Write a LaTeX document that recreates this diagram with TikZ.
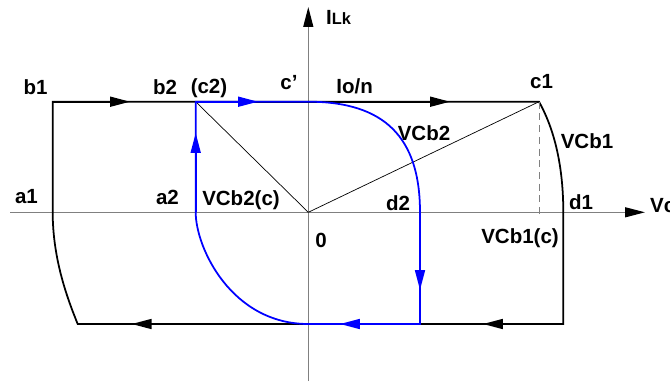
\documentclass[tikz,border=0pt]{standalone}
\usepackage{fontspec}
\setmainfont{Liberation Sans}
\usepackage{tikz}
\usetikzlibrary{arrows.meta}
\definecolor{curveBlue}{HTML}{0000FF}
\definecolor{axisGray}{HTML}{808080}

\begin{document}
\begin{tikzpicture}[
    x=0.03cm, y=-0.03cm,
    ptLabel/.style={font=\fontsize{17.5}{20}\selectfont\bfseries, inner sep=0pt},
    outerLoop/.style={line width=1.5pt, black, line join=miter},
    blueLoop/.style={line width=1.5pt, curveBlue},
    headArrow/.style={-{Triangle[length=17pt, width=8.5pt]}},
    axisLine/.style={line width=1.1pt, axisGray, -{Triangle[length=17pt, width=8.5pt, color=black]}},
    thinLine/.style={line width=0.6pt, black}
]
\useasboundingbox (0,0) rectangle (670,382);

% points of the loops
\coordinate (O) at (308.3,212.3);
\coordinate (b1) at (52.7,101.7);
\coordinate (c2) at (195.7,101.7);
\coordinate (cp) at (308.3,101.7);
\coordinate (c1) at (539,101.7);
\coordinate (c1foot) at (539,215);
\coordinate (d1) at (563.3,212.3);
\coordinate (d2) at (420,212.3);
\coordinate (a1) at (52.7,212.3);
\coordinate (a2) at (195.7,212.3);
\coordinate (e1) at (563.3,324);
\coordinate (e2) at (420,324);
\coordinate (f0) at (308.3,324);
\coordinate (g1) at (77.7,324);

% arrow tips
\coordinate (t1) at (130,101.7);
\coordinate (t2) at (450,101.7);
\coordinate (t3) at (483,324);
\coordinate (t4) at (131.7,324);
\coordinate (bt1) at (258,101.7);
\coordinate (bt2) at (420,290);
\coordinate (bt3) at (340,324);
\coordinate (bt4) at (195.7,133);

% axes
\coordinate (xStart) at (10,212.3);
\coordinate (xEnd) at (645,212.3);
\coordinate (yStart) at (308.3,381);
\coordinate (yEnd) at (308.3,7);
\draw[axisLine] (xStart) -- (xEnd);
\draw[axisLine] (yStart) -- (yEnd);

% outer loop
\draw[outerLoop] (b1) -- (c1) .. controls (552,125) and (563.3,160) .. (d1) -- (e1) -- (g1) .. controls (68,300) and (52.7,260) .. (a1) -- cycle;
\draw[outerLoop, headArrow] (b1) -- (t1);
\draw[outerLoop, headArrow] (c2) -- (t2);
\draw[outerLoop, headArrow] (e1) -- (t3);
\draw[outerLoop, headArrow] (e2) -- (t4);

% radii
\draw[thinLine] (c2) -- (O);
\draw[thinLine] (c1) -- (O);
\draw[thinLine, axisGray, dash pattern=on 6pt off 4pt] (c1) -- (c1foot);

% inner loop
\draw[blueLoop] (c2) -- (cp) .. controls (384.3,101.7) and (420,137.1) .. (d2) -- (e2) -- (f0) .. controls (231.7,324) and (195.7,248) .. (a2) -- cycle;
\draw[blueLoop, headArrow] (c2) -- (bt1);
\draw[blueLoop, headArrow] (d2) -- (bt2);
\draw[blueLoop, headArrow] (e2) -- (bt3);
\draw[blueLoop, headArrow] (a2) -- (bt4);

% labels
\node[ptLabel] (lb1) at (35.5,87) {b1};
\node[ptLabel] (lb2) at (165,87) {b2};
\node[ptLabel] (lc2) at (209,88) {(c2)};
\node[ptLabel] (lcp) at (289,83) {c'};
\node[ptLabel] (lIo) at (354.7,86) {Io/n};
\node[ptLabel] (lc1) at (541.5,82) {c1};
\node[ptLabel] (lVCb2) at (424,133) {VCb2};
\node[ptLabel] (lVCb1) at (587,141) {VCb1};
\node[ptLabel] (la1) at (26.5,197) {a1};
\node[ptLabel] (la2) at (167.5,197) {a2};
\node[ptLabel] (lVCb2c) at (241,200) {VCb2(c)};
\node[ptLabel] (ld2) at (398,203) {d2};
\node[ptLabel] (ld1) at (581,202) {d1};
\node[ptLabel] (lO) at (321,240) {0};
\node[ptLabel] (lVCb1c) at (520,238) {VCb1(c)};
\node[ptLabel, anchor=west] (lVc) at (650,206) {Vc};
\node[ptLabel, anchor=west] (lILk) at (326,17) {I{\fontsize{14}{16}\selectfont Lk}};

\end{tikzpicture}
\end{document}
